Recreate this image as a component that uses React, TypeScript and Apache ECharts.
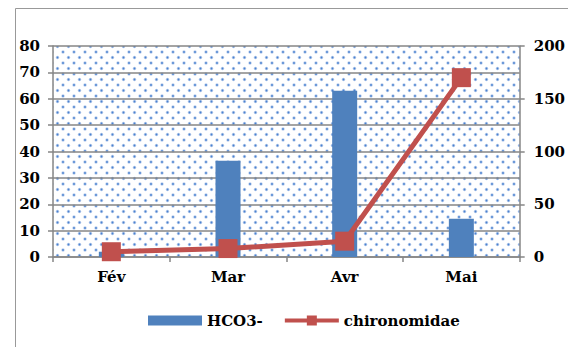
import React, { useEffect, useRef } from "react";
import * as echarts from "echarts";

const categories = ["Fév", "Mar", "Avr", "Mai"];
const hco3 = [2, 36.5, 63, 14.5];
const chironomidae = [5, 8, 15, 170];
const leftTicks = { min: 0, max: 80, interval: 10 };
const rightTicks = { min: 0, max: 200, interval: 50 };

const FONT = "DejaVu Serif";

export default function App() {
  const ref = useRef<HTMLDivElement>(null);
  useEffect(() => {
    if (!ref.current) return;
    const chart = echarts.init(ref.current, undefined, { renderer: "svg" });
    const tile = document.createElement("canvas");
    tile.width = 11;
    tile.height = 11;
    const ctx = tile.getContext("2d")!;
    ctx.fillStyle = "#ffffff";
    ctx.fillRect(0, 0, 11, 11);
    const dot = (x: number, y: number) => {
      ctx.fillStyle = "rgba(110,150,215,0.5)";
      ctx.beginPath();
      ctx.arc(x, y, 1.7, 0, Math.PI * 2);
      ctx.fill();
      ctx.fillStyle = "#4a82d0";
      ctx.beginPath();
      ctx.arc(x, y, 0.9, 0, Math.PI * 2);
      ctx.fill();
    };
    dot(2.5, 2.5);
    dot(8, 8);
    const pattern = { image: tile.toDataURL(), repeat: "repeat" };

    const labelStyle = {
      fontFamily: FONT,
      fontWeight: "bold" as const,
      fontSize: 15,
      color: "#000",
    };
    const gray = "#868686";

    chart.setOption({
      animation: false,
      backgroundColor: "#fff",
      textStyle: { fontFamily: FONT },
      graphic: [
        {
          type: "line",
          shape: { x1: 15.5, y1: 8.5, x2: 568, y2: 8.5 },
          style: { stroke: "#999", lineWidth: 1 },
        },
        {
          type: "line",
          shape: { x1: 15.5, y1: 8.5, x2: 15.5, y2: 347 },
          style: { stroke: "#999", lineWidth: 1 },
        },
      ],
      grid: {
        left: 53,
        right: 46,
        top: 46,
        bottom: 90,
        show: true,
        backgroundColor: pattern,
        borderWidth: 0,
      },
      legend: {
        left: 143,
        top: 308,
        itemWidth: 54,
        itemHeight: 10,
        itemGap: 22,
        textStyle: { ...labelStyle, fontSize: 15 },
        data: [
          { name: "HCO3-", icon: "rect" },
          {
            name: "chironomidae",
            icon: "path://M0,3 H22 V0 H32 V3 H54 V7 H32 V10 H22 V7 H0 Z",
          },
        ],
      },
      xAxis: {
        type: "category",
        data: categories,
        axisLine: { lineStyle: { color: gray, width: 1.5 } },
        axisTick: { show: true, length: 5, lineStyle: { color: gray, width: 1.5 } },
        axisLabel: { ...labelStyle, margin: 12 },
      },
      yAxis: [
        {
          type: "value",
          ...leftTicks,
          axisLine: { show: true, lineStyle: { color: gray, width: 1.5 } },
          axisTick: { show: true, length: 5, lineStyle: { color: gray, width: 1.5 } },
          splitLine: { show: true, lineStyle: { color: gray, width: 1.5 } },
          axisLabel: { ...labelStyle, margin: 13 },
        },
        {
          type: "value",
          position: "right",
          ...rightTicks,
          axisLine: { show: true, lineStyle: { color: gray, width: 1.5 } },
          axisTick: { show: true, length: 5, lineStyle: { color: gray, width: 1.5 } },
          splitLine: { show: false },
          axisLabel: { ...labelStyle, margin: 14 },
        },
      ],
      series: [
        {
          name: "HCO3-",
          type: "bar",
          data: hco3,
          barWidth: 25,
          itemStyle: { color: "#4f81bd" },
        },
        {
          name: "chironomidae",
          type: "line",
          yAxisIndex: 1,
          data: chironomidae,
          symbol: "rect",
          symbolSize: 19,
          lineStyle: { color: "#c0504d", width: 5 },
          itemStyle: { color: "#c0504d" },
        },
      ],
    });
    return () => chart.dispose();
  }, []);
  return (
    <div
      ref={ref}
      style={{ position: "fixed", left: 0, top: 0, width: 568, height: 347 }}
    />
  );
}
